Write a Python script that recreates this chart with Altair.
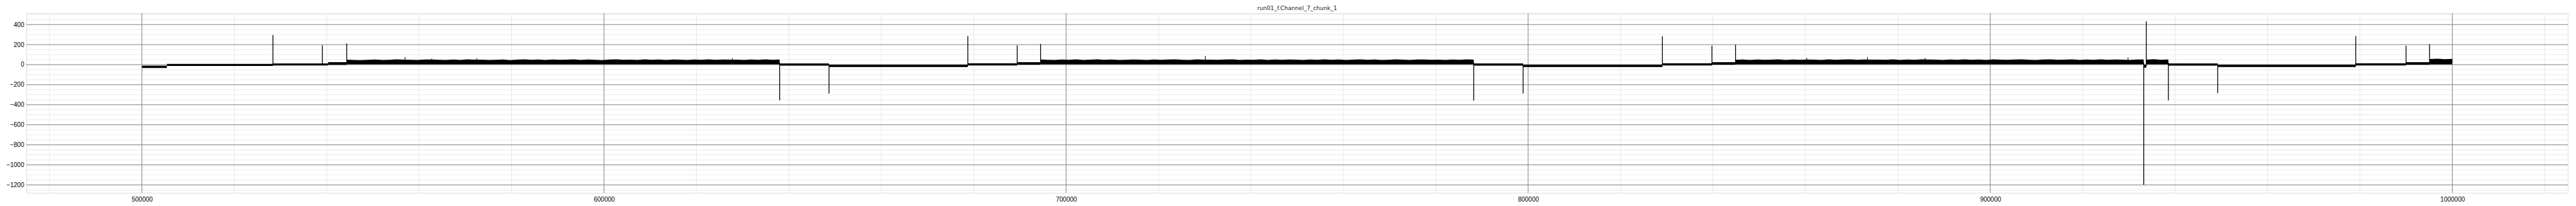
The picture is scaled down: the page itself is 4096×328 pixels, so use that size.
import altair as alt
import pandas as pd
import numpy as np

title_text = "run01_f.Channel_7_chunk_1"

# x / y tick labels
x_ticks = [500000, 600000, 700000, 800000, 900000, 1000000]
x_major_grid = [500000, 600000, 700000, 800000, 900000, 1000000]
x_minor_grid = [480000, 520000, 540000, 560000, 580000, 620000, 640000, 660000, 680000,
                720000, 740000, 760000, 780000, 820000, 840000, 860000, 880000,
                920000, 940000, 960000, 980000, 1020000]
y_ticks = [-1200, -1000, -800, -600, -400, -200, 0, 200, 400]
y_minor_grid = [-1250, -1150, -1100, -1050, -950, -900, -850, -750, -700, -650,
                -550, -500, -450, -350, -300, -250, -150, -100, -50,
                50, 100, 150, 250, 300, 350, 450, 500]

# quiet (low-noise) level segments: start, end, band low, band high
quiet_start = [500000, 505400, 528350, 540280, 638007, 648690, 678735, 689420,
               788230, 798910, 829050, 839770, 933220, 938550, 949240, 979100, 989990]
quiet_end = [505400, 528350, 540280, 544330, 648690, 678735, 689420, 694480,
             798910, 829050, 839770, 844880, 933770, 949240, 979100, 989990, 995080]
quiet_low = [-33, -13, -8, -2, -10, -24, -8, 0, -10, -24, -8, 0, -30, -10, -24, -8, 0]
quiet_high = [-10, 8, 13, 25, 13, 0, 14, 24, 13, 0, 14, 24, 0, 13, 0, 14, 24]

# noisy segments: start, end, band low, upper envelope read along the segment
noisy_start = [544330, 694480, 844880, 933770, 995080]
noisy_end = [638007, 788230, 933220, 938550, 1000000]
noisy_low = [3, 3, 3, 3, 3]
noisy_top_1 = [50, 47, 45, 48, 51, 46, 49, 53, 50, 49, 47, 52, 51, 48, 46, 51, 47, 53, 50, 50,
               46, 49, 52, 45, 50, 53, 48, 51, 47, 52, 49, 50, 53, 46, 52, 48, 45, 51, 53, 48,
               50, 47, 53, 49, 51, 47, 52, 50, 46, 52, 49, 53, 48, 51, 50, 50, 47, 52, 49, 53,
               48, 51]
noisy_top_2 = [52, 49, 47, 51, 48, 53, 46, 50, 53, 48, 51, 47, 49, 52, 50, 46, 52, 48, 51, 53,
               49, 47, 53, 50, 50, 48, 52, 53, 47, 50, 49, 53, 46, 51, 48, 52, 50, 47, 52, 49,
               53, 48, 51, 46, 50, 53, 48, 52, 47, 49, 53, 50, 46, 51, 52, 48, 50, 47, 52, 49,
               53, 50]
noisy_top_3 = [49, 51, 47, 52, 48, 50, 53, 46, 51, 49, 52, 50, 47, 53, 48, 51, 53, 49, 52, 50,
               50, 48, 53, 47, 51, 49, 53, 51, 50, 47, 52, 48, 53, 49, 51, 46, 53, 50, 48, 52,
               53, 49, 47, 51, 53, 48, 50, 53, 47, 52, 49, 53, 48, 51, 50, 47, 52, 52]
noisy_top_4 = [50, 54, 48, 52]
noisy_top_5 = [56, 60, 54, 58]
noisy_tops = [noisy_top_1, noisy_top_2, noisy_top_3, noisy_top_4, noisy_top_5]

# isolated noise hairs that stick out above the noisy band
hair_x = [556950, 562730, 572440, 627760, 730130, 860280, 873440, 885920, 929830]
hair_top = [76, 60, 65, 65, 86, 70, 76, 67, 73]

# spikes: position, level they start from, peak value
spike_x = [528350, 539040, 544330, 638007, 648690, 678735, 689420, 694480, 788230, 798910,
           829050, 839770, 844880, 933220, 933770, 938550, 949240, 979100, 989990, 995080]
spike_base = [0, 5, 10, 20, 0, -10, 5, 10, 20, 0, -10, 5, 10, 20, -15, 20, 0, -10, 0, 10]
spike_peak = [295, 192, 212, -356, -289, 287, 192, 206, -359, -287, 284, 190, 200,
              -1197, 432, -356, -284, 285, 189, 203]

# ---- build tables ----
rows = []
seg = 0
for s, e, lo, hi in zip(quiet_start, quiet_end, quiet_low, quiet_high):
    rows.append({"seg": seg, "x": s, "lo": lo, "hi": hi})
    rows.append({"seg": seg, "x": e, "lo": lo, "hi": hi})
    seg += 1
for s, e, lo, tops in zip(noisy_start, noisy_end, noisy_low, noisy_tops):
    xs = np.linspace(s, e, len(tops))
    for xv, tv in zip(xs, tops):
        rows.append({"seg": seg, "x": float(xv), "lo": lo, "hi": tv})
    seg += 1
band_df = pd.DataFrame(rows)
spike_df = pd.DataFrame({"x": spike_x, "base": spike_base, "peak": spike_peak})
hair_df = pd.DataFrame({"x": hair_x, "base": [20] * len(hair_x), "peak": hair_top})

xscale = alt.Scale(domain=[475000, 1025000], nice=False, zero=False)
yscale = alt.Scale(domain=[-1278.5, 513.5], nice=False, zero=False)
x_axis = alt.Axis(values=x_ticks, format="d", grid=False, ticks=False,
                  domain=False, labelPadding=5, title=None)
y_axis = alt.Axis(values=y_ticks, format="d", grid=False, ticks=False, domain=False,
                  labelPadding=4, title=None,
                  labelExpr="replace(datum.label, '-', '\u2212')")

minor_x = alt.Chart(pd.DataFrame({"v": x_minor_grid})).mark_rule(
    color="#e3e3e3", strokeWidth=0.8).encode(x=alt.X("v:Q", scale=xscale, axis=x_axis))
minor_y = alt.Chart(pd.DataFrame({"v": y_minor_grid})).mark_rule(
    color="#e3e3e3", strokeWidth=0.8).encode(y=alt.Y("v:Q", scale=yscale, axis=y_axis))
major_x = alt.Chart(pd.DataFrame({"v": x_major_grid})).mark_rule(
    color="#808080", strokeWidth=1.0).encode(x=alt.X("v:Q", scale=xscale, axis=x_axis))
major_y = alt.Chart(pd.DataFrame({"v": y_ticks})).mark_rule(
    color="#808080", strokeWidth=1.0).encode(y=alt.Y("v:Q", scale=yscale, axis=y_axis))

bands = alt.Chart(band_df).mark_area(color="black", interpolate="linear").encode(
    x=alt.X("x:Q", scale=xscale, axis=x_axis),
    y=alt.Y("lo:Q", scale=yscale, axis=y_axis),
    y2="hi:Q",
    detail="seg:N",
)

hairs = alt.Chart(hair_df).mark_rule(color="black", strokeWidth=1.0).encode(
    x=alt.X("x:Q", scale=xscale, axis=x_axis),
    y=alt.Y("base:Q", scale=yscale, axis=y_axis),
    y2="peak:Q",
)

spikes = alt.Chart(spike_df).mark_rule(color="black", strokeWidth=1.3).encode(
    x=alt.X("x:Q", scale=xscale, axis=x_axis),
    y=alt.Y("base:Q", scale=yscale, axis=y_axis),
    y2="peak:Q",
)

chart = alt.layer(minor_x, minor_y, major_x, major_y, bands, hairs, spikes).properties(
    width=4041,
    height=286,
    padding={"left": 34, "top": 13, "right": 5, "bottom": 15},
    autosize=alt.AutoSizeParams(type="none"),
    title=alt.TitleParams(text=title_text, font="DejaVu Sans", fontSize=9.1,
                          fontWeight="normal", color="#222222", anchor="middle",
                          offset=2),
).configure_view(stroke="#cccccc", strokeWidth=1).configure_axis(
    labelFont="DejaVu Sans", labelFontSize=7.3, labelColor="#333333"
).configure(background="white")

chart.save("out.html", embed_options={"renderer": "svg", "actions": False})
